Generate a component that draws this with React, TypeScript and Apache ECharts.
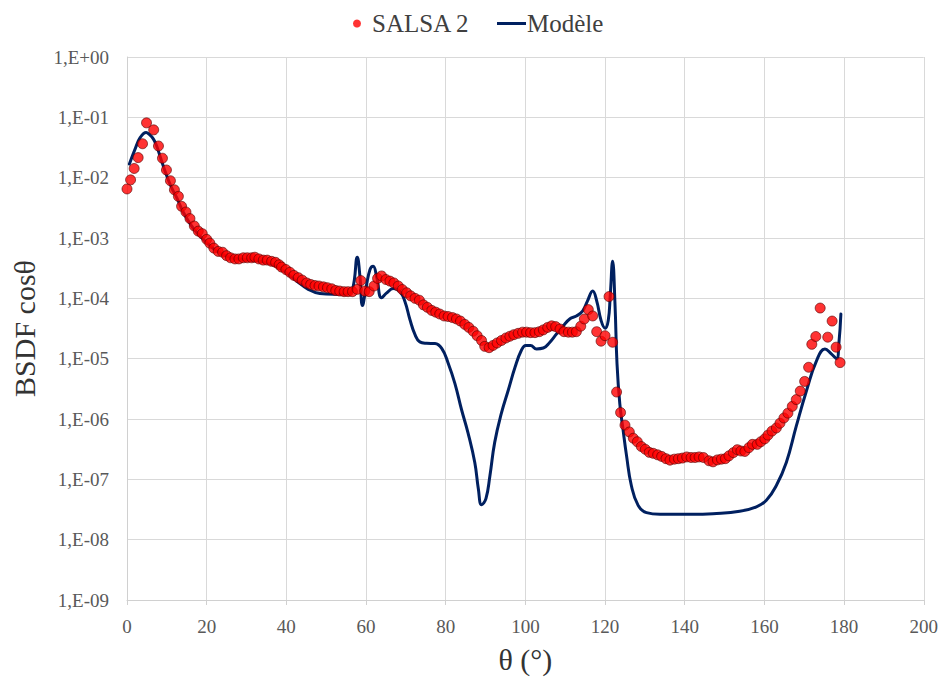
import React, { useEffect, useRef } from "react";
import * as echarts from "echarts";

// SALSA 2 measurements (theta in degrees, BSDF cos theta)
const salsaTheta = [
  0, 0.9, 1.8, 2.8, 3.9, 4.9, 6.7, 7.9, 8.9, 9.9, 10.9, 11.9, 12.9, 13.7, 14.8, 15.8, 16.9, 17.9, 18.9, 20.0,
  20.8, 21.8, 22.9, 24.0, 25.0, 26.0, 27.1, 28.1, 29.2, 30.2, 31.3, 32.1, 33.1, 34.2, 35.2, 36.3, 37.3, 38.2,
  38.8, 39.9, 40.9, 41.9, 43.0, 44.0, 45.1, 46.1, 47.2, 48.2, 49.3, 50.3, 51.4, 52.4, 53.4, 54.5, 55.5, 56.6,
  57.8, 58.7, 59.7, 60.8, 62.0, 62.9, 63.9, 65.0, 66.0, 67.0, 68.1, 69.1, 70.2, 71.2, 72.3, 73.4, 74.4, 75.4,
  76.5, 77.5, 78.5, 79.6, 80.6, 81.7, 82.7, 83.7, 84.8, 85.8, 86.9, 87.9, 89.0, 89.8, 90.9, 91.9, 92.9, 94.0,
  95.1, 96.1, 97.1, 98.2, 99.3, 100.3, 101.3, 102.4, 103.5, 104.5, 105.6, 106.6, 107.6, 108.7, 109.7, 110.8,
  111.8, 112.8, 113.9, 114.8, 115.8, 116.9, 117.9, 119.0, 120.0, 121.0, 121.9, 122.9, 123.9, 125.0, 126.1,
  127.1, 128.1, 129.1, 130.1, 131.1, 132.1, 133.2, 134.2, 135.3, 136.3, 137.4, 138.4, 139.4, 140.5, 141.6,
  142.6, 143.6, 144.7, 146.1, 147.1, 148.2, 149.2, 150.2, 151.1, 152.2, 153.2, 154.1, 155.1, 156.1, 157.0,
  158.2, 159.1, 160.1, 160.9, 161.9, 163.0, 163.9, 164.9, 165.9, 167.0, 168.0, 169.0, 170.1, 171.1, 171.9,
  172.9, 174.0, 175.9, 177.0, 178.0, 179.0,
];
const salsaValue = [
  6.5e-3, 9.2e-3, 1.42e-2, 2.15e-2, 3.65e-2, 8.1e-2, 6.2e-2, 3.35e-2, 2.1e-2, 1.34e-2, 8.9e-3, 6.3e-3, 4.9e-3,
  3.35e-3, 2.7e-3, 2.1e-3, 1.58e-3, 1.3e-3, 1.18e-3, 9.5e-4,
  8.2e-4, 6.8e-4, 6.0e-4, 5.8e-4, 5.1e-4, 4.7e-4, 4.5e-4, 4.5e-4, 4.7e-4, 4.7e-4, 4.7e-4, 4.8e-4, 4.5e-4,
  4.3e-4, 4.3e-4, 4.1e-4, 3.95e-4, 3.6e-4,
  3.3e-4, 3.0e-4, 2.7e-4, 2.4e-4, 2.2e-4, 2.0e-4, 1.8e-4, 1.7e-4, 1.63e-4, 1.6e-4, 1.55e-4, 1.5e-4, 1.44e-4,
  1.35e-4, 1.32e-4, 1.29e-4, 1.29e-4, 1.29e-4,
  1.41e-4, 1.97e-4, 1.32e-4, 1.29e-4, 1.6e-4, 2.14e-4, 2.35e-4, 2.05e-4, 1.93e-4, 1.8e-4, 1.6e-4, 1.4e-4,
  1.24e-4, 1.1e-4, 1.0e-4, 9.3e-5, 7.8e-5, 7.1e-5,
  6.3e-5, 5.9e-5, 5.5e-5, 5.1e-5, 5.0e-5, 4.8e-5, 4.55e-5, 4.2e-5, 3.7e-5, 3.3e-5, 2.85e-5, 2.4e-5, 2.0e-5,
  1.6e-5, 1.52e-5, 1.66e-5, 1.82e-5, 2.0e-5,
  2.2e-5, 2.35e-5, 2.5e-5, 2.63e-5, 2.75e-5, 2.75e-5, 2.7e-5, 2.7e-5, 2.8e-5, 3.0e-5, 3.3e-5, 3.5e-5, 3.4e-5,
  3.1e-5, 2.8e-5, 2.75e-5,
  2.75e-5, 2.8e-5, 3.45e-5, 4.55e-5, 6.5e-5, 5.1e-5, 2.8e-5, 1.95e-5, 2.4e-5, 1.07e-4, 1.87e-5, 2.8e-6,
  1.28e-6, 7.9e-7, 6.1e-7,
  4.8e-7, 4.2e-7, 3.5e-7, 3.15e-7, 2.8e-7, 2.7e-7, 2.55e-7, 2.4e-7, 2.2e-7, 2.08e-7, 2.16e-7, 2.2e-7, 2.25e-7,
  2.35e-7, 2.3e-7,
  2.3e-7, 2.35e-7, 2.3e-7, 2.03e-7, 1.95e-7, 2.1e-7, 2.16e-7, 2.2e-7, 2.45e-7, 2.77e-7, 3.1e-7, 2.95e-7,
  2.9e-7, 3.35e-7, 3.8e-7,
  3.8e-7, 4.2e-7, 4.7e-7, 5.4e-7, 6.3e-7, 7.1e-7, 8.5e-7, 1.04e-6, 1.25e-6, 1.62e-6, 2.1e-6, 2.9e-6, 4.2e-6,
  7.2e-6, 1.73e-5,
  2.33e-5, 6.9e-5, 2.27e-5, 4.2e-5, 1.55e-5, 8.6e-6,
];

// Model curve
const modelTheta = [
  0.6, 2.0, 3.3, 4.8, 5.6, 6.6, 7.45, 8.45, 9.45, 10.45, 11.45, 12.45, 14.1, 15.8, 17.5, 20.0, 22.5, 25.8,
  29.2, 33.4, 36.7, 39.2, 42.6, 45.5, 48.4, 51.8, 55.1, 56.6, 57.8, 58.5, 59.1, 60.0, 61.0, 61.8, 62.7, 63.9,
  65.2, 66.8, 68.5, 69.8, 71.0, 72.3, 73.5, 75.2, 77.3, 79.0, 80.6, 82.3, 84.0, 85.6, 87.3, 88.2, 89.0, 90.1,
  91.1, 92.3, 94.0, 95.7, 97.4, 99.0, 100.1, 101.3, 102.8, 104.5, 106.1, 107.8, 109.5, 111.2, 112.8, 114.4,
  115.6, 116.9, 117.9, 119.0, 120.0, 120.8, 121.3, 121.9, 122.5, 123.0, 123.7, 124.5, 125.4, 126.6, 128.3,
  130.4, 133.8, 142.1, 147.1, 153.8, 158.0, 160.5, 163.0, 165.5, 168.0, 170.6, 173.1, 175.2, 176.8, 178.1,
  178.7, 179.2,
];
const modelValue = [
  1.68e-2, 2.95e-2, 4.6e-2, 5.6e-2, 5.2e-2, 4.4e-2, 3.35e-2, 2.1e-2, 1.34e-2, 8.9e-3, 6.3e-3, 4.7e-3, 2.7e-3,
  1.74e-3, 1.23e-3, 8.4e-4, 6.1e-4, 4.8e-4,
  4.4e-4, 4.1e-4, 3.6e-4, 2.9e-4, 1.94e-4, 1.41e-4, 1.2e-4, 1.17e-4, 1.17e-4, 1.41e-4, 4.8e-4, 2.2e-4, 7.6e-5,
  1.5e-4, 3.0e-4, 3.4e-4, 2.2e-4, 1.02e-4,
  1.23e-4, 1.45e-4, 1.3e-4, 8.7e-5, 4.5e-5, 2.5e-5, 1.9e-5, 1.8e-5, 1.78e-5, 1.48e-5, 8.5e-6, 3.9e-6, 1.41e-6,
  5.9e-7, 1.9e-7, 6.9e-8, 3.8e-8, 4.8e-8,
  1.15e-7, 4.1e-7, 1.26e-6, 3.0e-6, 7.2e-6, 1.38e-5, 1.66e-5, 1.66e-5, 1.45e-5, 1.5e-5, 1.86e-5, 2.57e-5,
  3.5e-5, 4.6e-5, 5.1e-5, 6.2e-5,
  9.1e-5, 1.32e-4, 9.1e-5, 4.3e-5, 3.2e-5, 4.3e-5, 1.1e-4, 4.1e-4, 7.9e-5, 8.3e-6, 1.8e-6, 6.8e-7, 2.45e-7,
  7.9e-8, 3.7e-8,
  2.8e-8, 2.63e-8, 2.63e-8, 2.7e-8, 2.95e-8, 3.5e-8, 4.5e-8, 7.9e-8, 1.9e-7, 7.6e-7, 3.0e-6, 9.3e-6, 1.45e-5,
  1.2e-5, 1.0e-5,
  1.8e-5, 5.5e-5,
];

const xTicks = [0, 20, 40, 60, 80, 100, 120, 140, 160, 180, 200];

const FONT = "'Liberation Serif', 'Times New Roman', serif";

function fmtLog(v: number): string {
  const e = Math.round(Math.log10(v));
  const s = String(Math.abs(e)).padStart(2, "0");
  return "1,E" + (e >= 0 ? "+" : "-") + s;
}

export default function App() {
  const ref = useRef<HTMLDivElement>(null);
  useEffect(() => {
    if (!ref.current) return;
    const chart = echarts.init(ref.current, undefined, { renderer: "svg" });
    const salsa = salsaTheta.map((t, i) => [t, salsaValue[i]]);
    const model = modelTheta.map((t, i) => [t, modelValue[i]]);
    chart.setOption({
      animation: false,
      backgroundColor: "#ffffff",
      textStyle: { fontFamily: FONT },
      legend: [
        {
          data: [{ name: "SALSA 2", icon: "circle", itemStyle: { color: "#ff0000", borderWidth: 0 } }],
          left: 348,
          top: 6,
          itemWidth: 20,
          itemHeight: 8,
          textStyle: { fontSize: 25, color: "#404040", fontFamily: FONT },
        },
        {
          data: [{ name: "Modèle", icon: "rect", itemStyle: { color: "#002060" } }],
          left: 492,
          top: 6,
          itemWidth: 29,
          itemHeight: 3,
          itemGap: 0,
          textStyle: { fontSize: 25, color: "#404040", fontFamily: FONT, padding: [0, 0, 0, -4] },
        },
      ],
      grid: { left: 127, right: 17, top: 57, bottom: 74, containLabel: false },
      xAxis: {
        type: "value",
        min: xTicks[0],
        max: xTicks[xTicks.length - 1],
        interval: 20,
        name: "θ (°)",
        nameLocation: "middle",
        nameGap: 44,
        nameTextStyle: { fontSize: 30, color: "#333333", fontFamily: FONT },
        axisLine: { show: true, lineStyle: { color: "#d0d0d0", width: 1 } },
        axisTick: { show: true, length: 5, lineStyle: { color: "#d0d0d0" } },
        axisLabel: { fontSize: 19, color: "#595959", margin: 17, fontFamily: FONT },
        splitLine: { show: true, lineStyle: { color: "#d9d9d9", width: 1 } },
      },
      yAxis: {
        type: "log",
        logBase: 10,
        min: 1e-9,
        max: 1,
        interval: 1,
        name: "BSDF cosθ",
        nameLocation: "middle",
        nameGap: 88,
        nameTextStyle: { fontSize: 30, color: "#333333", fontFamily: FONT },
        axisLine: { show: true, lineStyle: { color: "#d0d0d0", width: 1 } },
        axisTick: { show: false },
        axisLabel: { fontSize: 19, color: "#595959", margin: 18, fontFamily: FONT, formatter: fmtLog },
        splitLine: { show: true, lineStyle: { color: "#d9d9d9", width: 1 } },
        minorSplitLine: { show: false },
      },
      series: [
        {
          name: "Modèle",
          type: "line",
          data: model,
          showSymbol: false,
          symbol: "none",
          smooth: 0.45,
          lineStyle: { color: "#002060", width: 3, join: "round", cap: "round" },
          itemStyle: { color: "#002060" },
          z: 2,
        },
        {
          name: "SALSA 2",
          type: "scatter",
          data: salsa,
          symbol: "circle",
          symbolSize: 10,
          itemStyle: { color: "#ff0000", borderColor: "#5a0000", borderWidth: 0.8 },
          z: 3,
        },
      ],
    });
    return () => chart.dispose();
  }, []);
  return (
    <div
      ref={ref}
      style={{ position: "absolute", left: 0, top: 0, width: 941, height: 679, background: "#fff" }}
    />
  );
}
